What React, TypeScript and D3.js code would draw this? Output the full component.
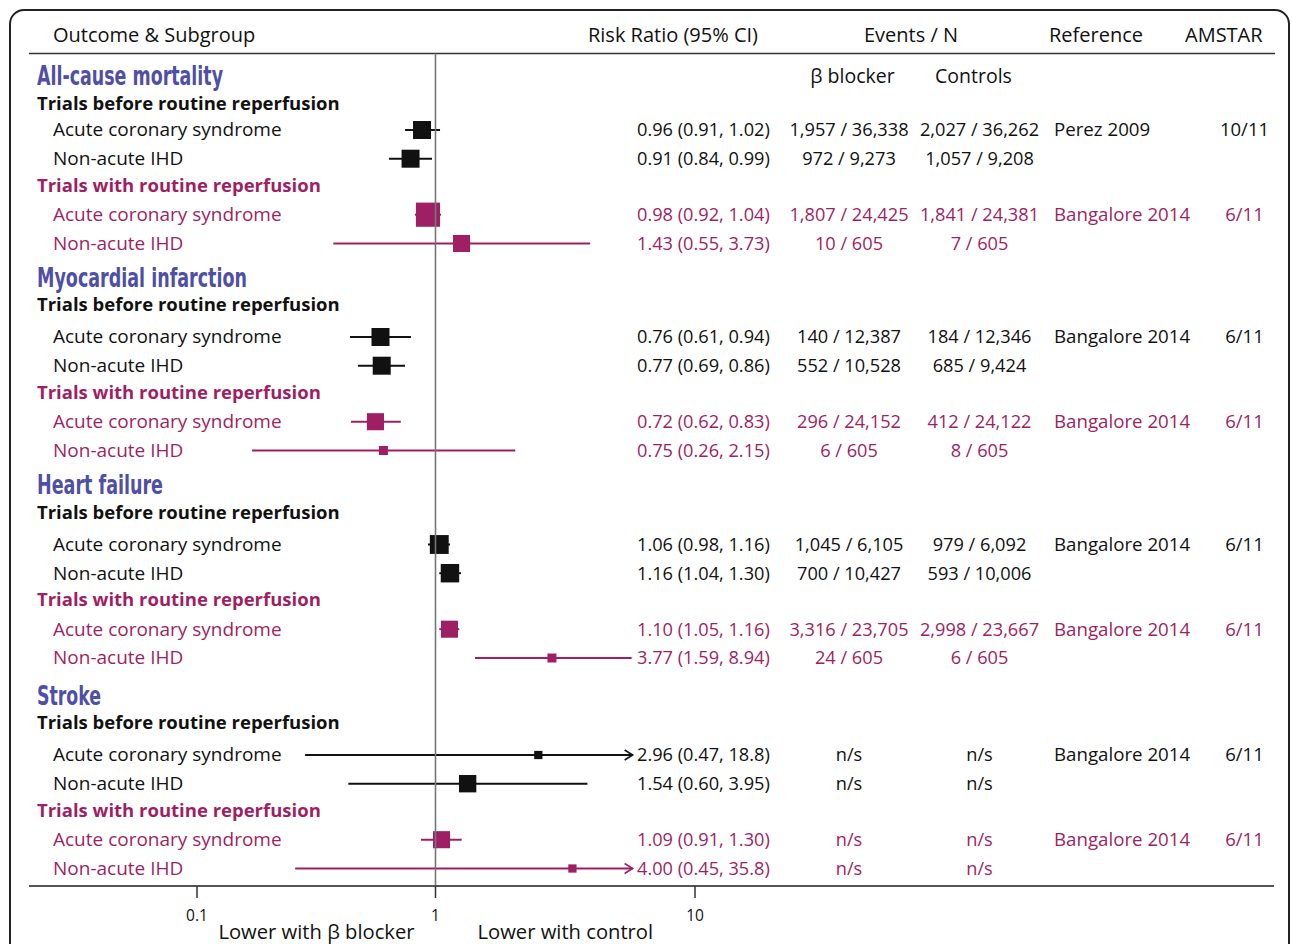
import React from 'react';
import * as d3 from 'd3';

// ---------------- data ----------------
const outcomes = ['All-cause mortality', 'Myocardial infarction', 'Heart failure', 'Stroke'];
const eras = ['Trials before routine reperfusion', 'Trials with routine reperfusion'];
const subgroups = ['Acute coronary syndrome', 'Non-acute IHD'];

// rows ordered outcome → era → subgroup
const rrText = [
  '0.96 (0.91, 1.02)', '0.91 (0.84, 0.99)', '0.98 (0.92, 1.04)', '1.43 (0.55, 3.73)',
  '0.76 (0.61, 0.94)', '0.77 (0.69, 0.86)', '0.72 (0.62, 0.83)', '0.75 (0.26, 2.15)',
  '1.06 (0.98, 1.16)', '1.16 (1.04, 1.30)', '1.10 (1.05, 1.16)', '3.77 (1.59, 8.94)',
  '2.96 (0.47, 18.8)', '1.54 (0.60, 3.95)', '1.09 (0.91, 1.30)', '4.00 (0.45, 35.8)',
];
const betaEvents = [
  '1,957 / 36,338', '972 / 9,273', '1,807 / 24,425', '10 / 605',
  '140 / 12,387', '552 / 10,528', '296 / 24,152', '6 / 605',
  '1,045 / 6,105', '700 / 10,427', '3,316 / 23,705', '24 / 605',
  'n/s', 'n/s', 'n/s', 'n/s',
];
const controlEvents = [
  '2,027 / 36,262', '1,057 / 9,208', '1,841 / 24,381', '7 / 605',
  '184 / 12,346', '685 / 9,424', '412 / 24,122', '8 / 605',
  '979 / 6,092', '593 / 10,006', '2,998 / 23,667', '6 / 605',
  'n/s', 'n/s', 'n/s', 'n/s',
];
const references = [
  'Perez 2009', '', 'Bangalore 2014', '',
  'Bangalore 2014', '', 'Bangalore 2014', '',
  'Bangalore 2014', '', 'Bangalore 2014', '',
  'Bangalore 2014', '', 'Bangalore 2014', '',
];
const amstar = [
  '10/11', '', '6/11', '',
  '6/11', '', '6/11', '',
  '6/11', '', '6/11', '',
  '6/11', '', '6/11', '',
];
// marker positions as read against the drawn axis
const markEst = [0.878, 0.786, 0.93, 1.26, 0.588, 0.595, 0.56, 0.605, 1.034, 1.137, 1.132, 2.81, 2.49, 1.33, 1.055, 3.37];
const markLo = [0.745, 0.638, 0.82, 0.373, 0.438, 0.473, 0.442, 0.17, 0.93, 1.034, 1.034, 1.42, 0.284, 0.431, 0.869, 0.258];
const markHi = [1.041, 0.967, 1.05, 3.94, 0.789, 0.745, 0.715, 2.03, 1.137, 1.254, 1.235, 5.7, 18.8, 3.85, 1.262, 35.8];
const markWeight = [1, 1, 1.8, 0.9, 1, 1, 0.9, 0.25, 1.1, 1.05, 0.9, 0.25, 0.21, 0.93, 0.9, 0.21];

const axisTicks = [0.1, 1, 10];
const tickLabels = ['0.1', '1', '10'];
const clipMax = 5.75;

// ---------------- style ----------------
const BLACK = '#111111';
const PURPLE = '#9e1f63';
const BLUE = '#4f4fa6';
const FONT = "'Open Sans', 'Noto Sans', sans-serif";
const TITLE_FONT = "'Liberation Sans Narrow', 'DejaVu Sans Condensed', 'Liberation Sans', sans-serif";

const W = 1292;
const H = 944;

export default function App() {
  const x = d3.scaleLog().domain([0.1, 1, 10]).range([197, 435.5, 695]);
  const groupTop = [130, 337, 544.5, 755];
  const rowOffsets = [0, 28.7, 84.7, 113.5];
  const boxSize = d3.scaleSqrt().domain([0, 1]).range([0, 18]);
  const titleWidths = [186, 210, 126, 64];

  const axisY = 886;
  const headerY = 53.5;

  const elements: React.ReactNode[] = [];

  outcomes.forEach((outcome, g) => {
    const top = groupTop[g];
    const tight = g === 0 ? 5 : 0;
    const titleY = top - 60 + tight;
    elements.push(
      <text key={`t${g}`} x={37} y={titleY + 9.5} fontFamily={TITLE_FONT} fontWeight="bold" fontSize={27}
        fill={BLUE} textLength={titleWidths[g]} lengthAdjust="spacingAndGlyphs">{outcome}</text>
    );
    eras.forEach((era, e) => {
      const subY = e === 0 ? top - 32 + tight + (g === 0 ? 1 : 0) : top + 55.5;
      const col = e === 0 ? BLACK : PURPLE;
      elements.push(
        <text key={`s${g}${e}`} x={37} y={subY + 6.2} fontFamily={FONT} fontWeight="bold" fontSize={18.5} fill={col}>{era}</text>
      );
      subgroups.forEach((sg, s) => {
        const i = g * 4 + e * 2 + s;
        const y = top + rowOffsets[e * 2 + s];
        const lo = x(markLo[i]);
        const hiClipped = markHi[i] > clipMax;
        const hi = x(Math.min(markHi[i], clipMax));
        const cx = x(markEst[i]);
        const sz = boxSize(markWeight[i]);
        const by = y + 6.3;
        elements.push(
          <g key={`r${i}`}>
            <text x={53} y={by} fontFamily={FONT} fontSize={19} fill={col}>{sg}</text>
            <line x1={lo} x2={hi} y1={y} y2={y} stroke={col} strokeWidth={2} />
            {hiClipped && (
              <path d={`M${hi - 8},${y - 5}L${hi},${y}L${hi - 8},${y + 5}`} fill="none" stroke={col} strokeWidth={1.6} />
            )}
            <rect x={cx - sz / 2} y={y - sz / 2} width={sz} height={sz} fill={col} />
            <text x={637} y={by} fontFamily={FONT} fontSize={18.2} fill={col}>{rrText[i]}</text>
            <text x={849} y={by} fontFamily={FONT} fontSize={18.2} fill={col} textAnchor="middle">{betaEvents[i]}</text>
            <text x={979.5} y={by} fontFamily={FONT} fontSize={18.2} fill={col} textAnchor="middle">{controlEvents[i]}</text>
            <text x={1054} y={by} fontFamily={FONT} fontSize={18.7} fill={col}>{references[i]}</text>
            <text x={1244.5} y={by} fontFamily={FONT} fontSize={18.5} fill={col} textAnchor="middle">{amstar[i]}</text>
          </g>
        );
      });
    });
  });

  return (
    <svg width={W} height={H} viewBox={`0 0 ${W} ${H}`}
      style={{ position: 'absolute', left: 0, top: 0, display: 'block', background: '#fff' }}>
      <rect x={10} y={10} width={1279} height={980} rx={14} ry={14} fill="#fff" stroke="#222" strokeWidth={2} />
      {/* header */}
      <g fontFamily={FONT} fontSize={20} fill={BLACK}>
        <text x={53} y={42}>Outcome &amp; Subgroup</text>
        <text x={673} y={42} textAnchor="middle">Risk Ratio (95% CI)</text>
        <text x={911} y={42} textAnchor="middle">Events / N</text>
        <text x={1049} y={42}>Reference</text>
        <text x={1185} y={42}>AMSTAR</text>
        <text x={852.5} y={82.5} textAnchor="middle" fontSize={19.5}>β blocker</text>
        <text x={973.5} y={82.5} textAnchor="middle" fontSize={19.5}>Controls</text>
      </g>
      <line x1={29} x2={1275} y1={headerY} y2={headerY} stroke="#333" strokeWidth={1.5} />
      {elements}
      <line x1={x(1)} x2={x(1)} y1={headerY} y2={axisY} stroke="#777" strokeWidth={1.6} />
      {/* axis */}
      <line x1={29} x2={1274} y1={axisY} y2={axisY} stroke="#555" strokeWidth={2} />
      {axisTicks.map((t, k) => (
        <g key={`tick${k}`}>
          <line x1={x(t)} x2={x(t)} y1={axisY} y2={axisY + 12} stroke="#333" strokeWidth={1.5} />
          <text x={x(t)} y={920.5} textAnchor="middle" fontFamily={FONT} fontSize={15.5} fill={BLACK}>{tickLabels[k]}</text>
        </g>
      ))}
      <text x={x(1) - 21} y={938.5} textAnchor="end" fontFamily={FONT} fontSize={20.2} fill={BLACK}>Lower with β blocker</text>
      <text x={x(1) + 42} y={938.5} fontFamily={FONT} fontSize={20.2} fill={BLACK}>Lower with control</text>
    </svg>
  );
}
